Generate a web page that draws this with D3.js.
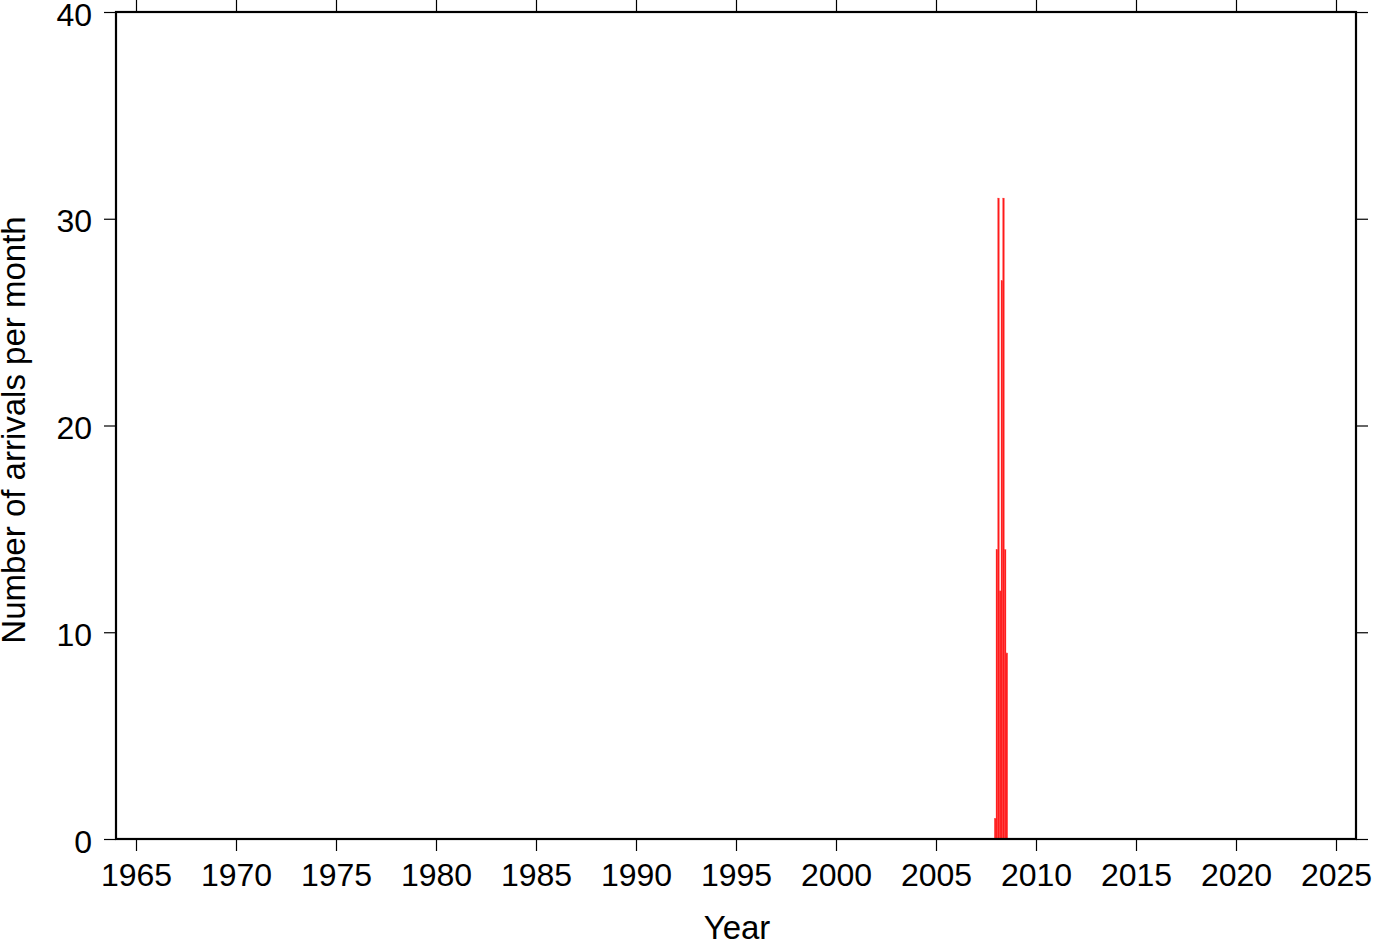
<!DOCTYPE html>
<html>
<head>
<meta charset="utf-8">
<script src="https://cdn.jsdelivr.net/npm/d3@7"></script>
<style>
  html, body { margin: 0; padding: 0; background: #fff; }
  svg { display: block; }
  text { font-family: "Liberation Sans", Arial, Helvetica, sans-serif; fill: #000; }
</style>
</head>
<body>
<script>
// Data (monthly arrival counts)
const months = ["2007-12", "2008-01", "2008-02", "2008-03", "2008-04", "2008-05", "2008-06", "2008-07"];
const counts = [1, 14, 31, 12, 27, 31, 14, 9];
const xTicks = [1965, 1970, 1975, 1980, 1985, 1990, 1995, 2000, 2005, 2010, 2015, 2020, 2025];
const yTicks = [0, 10, 20, 30, 40];
const xDomain = [1964, 2026];
const yDomain = [0, 40];

const W = 1382, H = 942;
const mL = 116, mR = 1356, mT = 12, mB = 839;

const svg = d3.select("body").append("svg").attr("width", W).attr("height", H);

const x = d3.scaleLinear().domain(xDomain).range([mL, mR]);
const y = d3.scaleLinear().domain(yDomain).range([mB, mT]);

const toYear = s => { const [yy, mm] = s.split("-").map(Number); return yy + (mm - 1) / 12; };

// Bars
svg.append("g").selectAll("rect").data(months.map((m, i) => ({ t: toYear(m), v: counts[i] })))
  .enter().append("rect")
  .attr("x", d => x(d.t))
  .attr("width", d => x(d.t + 1 / 12) - x(d.t))
  .attr("y", d => y(d.v))
  .attr("height", d => y(0) - y(d.v))
  .attr("fill", "#ff1a1a")
  .attr("stroke", "#ff4040")
  .attr("stroke-width", 0.3);

const fs = 32, fsT = 33;

// Axes
const axB = d3.axisBottom(x).tickValues(xTicks).tickSize(12).tickPadding(12).tickFormat(d3.format("d"));
const axT = d3.axisTop(x).tickValues(xTicks).tickSize(12).tickFormat("");
const axL = d3.axisLeft(y).tickValues(yTicks).tickSize(12).tickPadding(12).tickFormat(d3.format("d"));
const axR = d3.axisRight(y).tickValues(yTicks).tickSize(12).tickFormat("");

function style(g) {
  g.select(".domain").remove();
  g.selectAll(".tick line").attr("stroke", "#000").attr("stroke-width", 1.2);
  g.selectAll(".tick text").style("font-size", fs + "px").style("font-family", '"Liberation Sans", Arial, sans-serif').attr("fill", "#000");
}
svg.append("g").attr("transform", `translate(0,${mB})`).call(axB).call(style)
  .selectAll(".tick text").attr("dy", null).attr("y", 0).attr("transform", "translate(0,47)");
svg.append("g").attr("transform", `translate(0,${mT})`).call(axT).call(style);
svg.append("g").attr("transform", `translate(${mL},0)`).call(axL).call(style)
  .selectAll(".tick text").attr("dy", null).attr("transform", "translate(0,13)");
svg.append("g").attr("transform", `translate(${mR},0)`).call(axR).call(style);

// Frame
svg.append("rect").attr("x", mL).attr("y", mT).attr("width", mR - mL).attr("height", mB - mT)
  .attr("fill", "none").attr("stroke", "#000").attr("stroke-width", 2.2);

// Axis titles
svg.append("text").attr("x", 737).attr("y", 939).attr("text-anchor", "middle")
  .style("font-size", fsT + "px").text("Year");
svg.append("text").attr("transform", `translate(25,${430}) rotate(-90)`).attr("text-anchor", "middle")
  .style("font-size", fsT + "px").text("Number of arrivals per month");
</script>
</body>
</html>
